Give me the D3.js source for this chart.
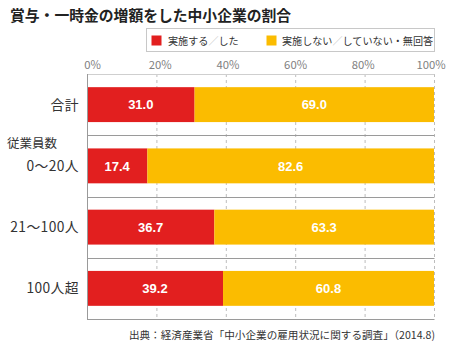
<!DOCTYPE html>
<html><head><meta charset="utf-8">
<script src="https://cdn.jsdelivr.net/npm/d3@7"></script>
<style>
html,body{margin:0;padding:0;background:#fff;}
svg{display:block;font-family:"Noto Sans CJK JP","Noto Sans",sans-serif;}
</style></head>
<body>
<script>
const categories = ["合計", "0〜20人", "21〜100人", "100人超"];
const doValues = [31.0, 17.4, 36.7, 39.2];
const notValues = [69.0, 82.6, 63.3, 60.8];
const tickValues = [0, 20, 40, 60, 80, 100];
const tickLabels = ["0%", "20%", "40%", "60%", "80%", "100%"];
const seriesNames = [["実施する", "した"], ["実施しない", "していない・無回答"]];
const colors = ["#e21f1f", "#fbbc00"];

const W = 450, H = 347;
const svg = d3.select("body").append("svg").attr("width", W).attr("height", H);

// title
svg.append("text").attr("x", 10).attr("y", 21)
  .attr("font-size", 14.8).attr("font-weight", "bold").attr("fill", "#222")
  .text("賞与・一時金の増額をした中小企業の割合");

// legend
const lg = svg.append("g");
lg.append("rect").attr("x", 146.5).attr("y", 28.5).attr("width", 288).attr("height", 23)
  .attr("fill", "#fff").attr("stroke", "#c8c8c8");
const legendX = [[151.5, 168], [266.5, 282]];
seriesNames.forEach((s, i) => {
  lg.append("rect").attr("x", legendX[i][0]).attr("y", 35.5).attr("width", 10).attr("height", 10).attr("fill", colors[i]);
  const t = lg.append("text").attr("x", legendX[i][1]).attr("y", 44.5).attr("font-size", 10.1).attr("fill", "#333");
  t.append("tspan").text(s[0]);
  t.append("tspan").attr("fill", "#bbb").text("／");
  t.append("tspan").text(s[1]);
});

// scales
const x = d3.scaleLinear().domain([0, 100]).range([87, 434]);
const xLabel = d3.scaleLinear().domain([0, 100]).range([92.5, 431]);
const y = d3.scaleBand().domain(categories).range([74, 319]).paddingInner(0.43).paddingOuter(0.215);
const step = y.step();

// gridlines
svg.append("g").selectAll("line").data(tickValues.filter(d => d > 0)).join("line")
  .attr("x1", d => x(d) + 0.5).attr("x2", d => x(d) + 0.5)
  .attr("y1", 74).attr("y2", 319)
  .attr("stroke", "#bdbdbd").attr("stroke-dasharray", "3,3");

// tick labels
svg.append("g").selectAll("text").data(tickValues).join("text")
  .attr("x", d => xLabel(d)).attr("y", 69)
  .attr("text-anchor", "middle").attr("font-size", 11.3).attr("fill", "#808080")
  .text((d, i) => tickLabels[i]);

// row separator lines
const bounds = d3.range(categories.length + 1).map(i => 74 + i * step);
svg.append("g").selectAll("line").data(bounds).join("line")
  .attr("x1", x(0)).attr("x2", x(100) + 0.5)
  .attr("y1", d => Math.round(d) + 0.5).attr("y2", d => Math.round(d) + 0.5)
  .attr("stroke", (d, i) => i === 0 ? "#cfcfcf" : "#9a9a9a");

// bars
const rows = categories.map((c, i) => ({c, a: doValues[i], b: notValues[i]}));
const g = svg.append("g");
g.selectAll("rect.a").data(rows).join("rect").attr("class", "a")
  .attr("x", x(0)).attr("y", d => y(d.c)).attr("height", y.bandwidth())
  .attr("width", d => x(d.a) - x(0)).attr("fill", colors[0]);
g.selectAll("rect.b").data(rows).join("rect").attr("class", "b")
  .attr("x", d => x(d.a)).attr("y", d => y(d.c)).attr("height", y.bandwidth())
  .attr("width", d => x(d.a + d.b) - x(d.a)).attr("fill", colors[1]);

// left axis
svg.append("line").attr("x1", x(0) + 0.5).attr("x2", x(0) + 0.5).attr("y1", 74).attr("y2", 319.5)
  .attr("stroke", "#9a9a9a");

// value labels
const vl = svg.append("g").attr("font-family", "'Liberation Sans',Arial,sans-serif")
  .attr("font-weight", "bold").attr("font-size", 13).attr("fill", "#fff").attr("text-anchor", "middle");
vl.selectAll("text.a").data(rows).join("text").attr("class", "a")
  .attr("x", d => (x(0) + x(d.a)) / 2).attr("y", d => y(d.c) + y.bandwidth() / 2 + 4.8)
  .text(d => d.a.toFixed(1));
vl.selectAll("text.b").data(rows).join("text").attr("class", "b")
  .attr("x", d => (x(d.a) + x(d.a + d.b)) / 2).attr("y", d => y(d.c) + y.bandwidth() / 2 + 4.8)
  .text(d => d.b.toFixed(1));

// category labels
svg.append("g").selectAll("text").data(categories).join("text")
  .attr("x", 79).attr("y", d => y(d) + y.bandwidth() / 2 + 5)
  .attr("text-anchor", "end").attr("font-size", 13.8).attr("letter-spacing", 0.4).attr("fill", "#333")
  .text(d => d);

svg.append("text").attr("x", 7).attr("y", 148).attr("font-size", 12.5).attr("fill", "#333").text("従業員数");

// source
svg.append("text").attr("x", 435).attr("y", 339).attr("text-anchor", "end")
  .attr("font-size", 10.6).attr("fill", "#333")
  .text("出典：経済産業省「中小企業の雇用状況に関する調査」（2014.8)");
</script>
</body></html>
